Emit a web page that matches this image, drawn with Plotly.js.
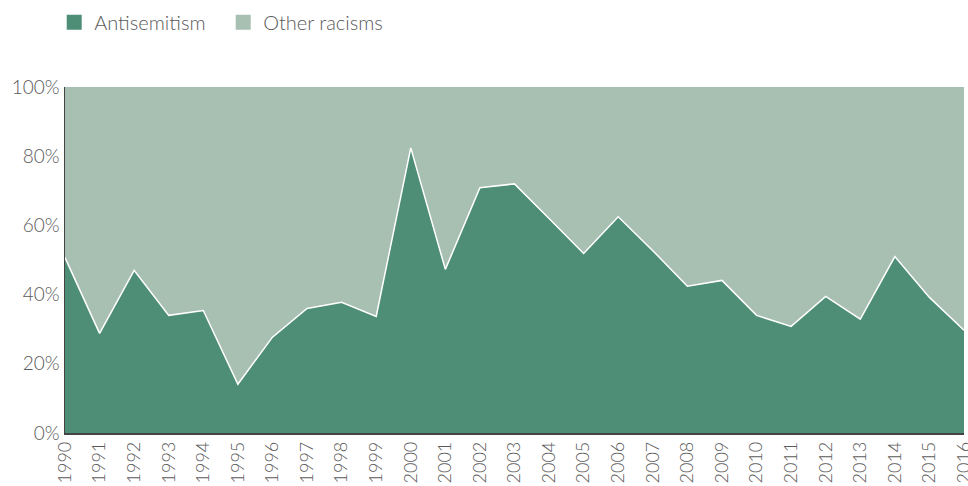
<!DOCTYPE html>
<html><head><meta charset="utf-8">
<script src="https://cdn.plot.ly/plotly-3.0.1.min.js"></script>
<style>html,body{margin:0;padding:0;background:#fff;}#chart{width:968px;height:486px;}</style>
</head><body><div id="chart"></div>
<script>
const years = ['1990','1991','1992','1993','1994','1995','1996','1997','1998','1999','2000','2001','2002','2003','2004','2005','2006','2007','2008','2009','2010','2011','2012','2013','2014','2015','2016'];
const antisemitism = [50.7,28.8,47,34,35.4,14.1,27.7,36,37.8,33.7,82.4,47.3,70.9,72,62,51.9,62.5,52.7,42.4,44.1,34,30.8,39.5,32.9,51,39.2,29.7];
const otherRacisms = antisemitism.map(v => 100 - v);
const seriesNames = ['Antisemitism', 'Other racisms'];
const colors = ['#4e8e77', '#a8c0b2'];

const font = {family: 'Lato, "Noto Sans", sans-serif', color: '#5a5a5a', size: 18, weight: 300};
const traces = [
  {x: years, y: antisemitism, name: seriesNames[0], type: 'scatter', mode: 'lines', stackgroup: 'a', showlegend: false,
   line: {color: '#ffffff', width: 1.5}, fillcolor: colors[0]},
  {x: years, y: otherRacisms, name: seriesNames[1], type: 'scatter', mode: 'lines', stackgroup: 'a', showlegend: false,
   line: {color: colors[1], width: 0}, fillcolor: colors[1]},
  {x: [null], y: [null], name: seriesNames[0], type: 'scatter', mode: 'markers',
   marker: {symbol: 'square', size: 15, color: colors[0]}},
  {x: [null], y: [null], name: seriesNames[1], type: 'scatter', mode: 'markers',
   marker: {symbol: 'square', size: 15, color: colors[1]}}
];
const layout = {
  width: 968, height: 486,
  margin: {l: 65, r: 4, t: 86, b: 53},
  paper_bgcolor: '#fff', plot_bgcolor: '#fff',
  font: font,
  showlegend: true,
  legend: {orientation: 'h', x: -0.012, xanchor: 'left', y: 1.24, yanchor: 'top', traceorder: 'normal',
           entrywidth: 124, entrywidthmode: 'pixels',
           font: {family: font.family, size: 20, color: '#5a5a5a', weight: 300}, itemwidth: 30, tracegroupgap: 0},
  xaxis: {type: 'category', range: [0, 26], tickangle: -90, showgrid: false, zeroline: false,
          showline: true, linecolor: '#444', linewidth: 1.5, ticks: '', tickfont: font, automargin: false},
  yaxis: {range: [0, 100], tickvals: [0,20,40,60,80,100], ticktext: ['0%','20%','40%','60%','80%','100%'],
          showgrid: false, zeroline: false, showline: true, linecolor: '#444', linewidth: 1.5, ticks: '',
          tickfont: Object.assign({}, font, {size: 19}), automargin: false}
};
Plotly.newPlot('chart', traces, layout, {displayModeBar: false, staticPlot: true});
</script></body></html>
